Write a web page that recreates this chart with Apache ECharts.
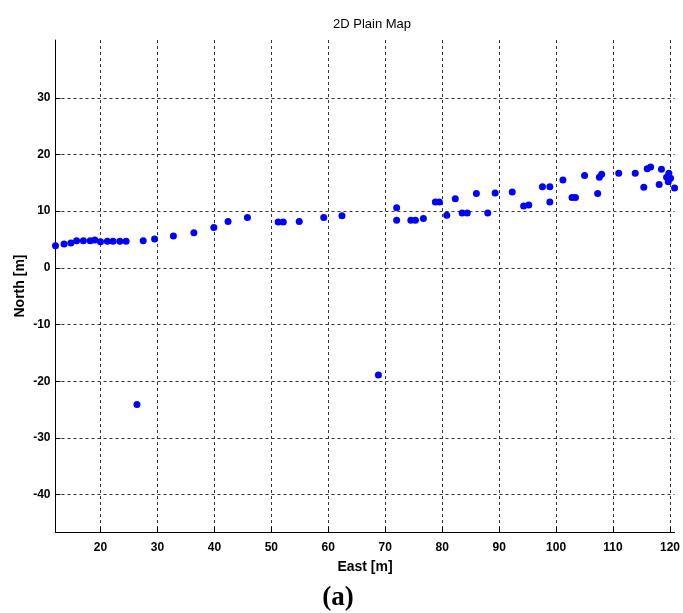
<!DOCTYPE html>
<html>
<head>
<meta charset="utf-8">
<script src="https://cdn.jsdelivr.net/npm/echarts@6/dist/echarts.min.js"></script>
<style>
  html, body { margin: 0; padding: 0; background: #fff; }
  #main { width: 683px; height: 613px; }
</style>
</head>
<body>
<div id="main"></div>
<script>
// 东向 / 北向 坐标 (m)
var eastVals = [
  12.1, 13.6, 14.8, 15.8, 17.0, 18.2, 19.0, 20.0, 21.2, 22.2, 23.4, 24.5,
  27.5, 29.5, 32.8, 36.4, 39.9, 42.4, 45.8, 51.2, 52.1, 54.9, 59.2, 62.4,
  72.0, 72.0, 74.5, 75.3, 76.7, 78.8, 79.5, 80.8, 82.3, 83.5, 84.4, 86.0,
  88.0, 89.3, 92.3, 94.3, 95.2, 97.6, 98.9, 98.9, 101.2, 102.8, 103.4, 105.0,
  107.3, 107.6, 108.0, 111.0, 113.9, 115.4, 116.0, 116.6, 118.1, 118.5, 119.4, 119.8,
  120.1, 119.7, 120.8, 26.4, 68.8
];
var northVals = [
  3.9, 4.2, 4.4, 4.8, 4.8, 4.8, 4.9, 4.6, 4.7, 4.7, 4.7, 4.7,
  4.8, 5.1, 5.6, 6.2, 7.1, 8.2, 8.9, 8.1, 8.1, 8.2, 8.9, 9.2,
  10.6, 8.4, 8.4, 8.4, 8.7, 11.6, 11.6, 9.3, 12.2, 9.7, 9.7, 13.1,
  9.7, 13.2, 13.4, 10.9, 11.1, 14.3, 14.3, 11.6, 15.5, 12.4, 12.4, 16.3,
  13.1, 16.0, 16.5, 16.7, 16.7, 14.2, 17.5, 17.8, 14.7, 17.4, 16.0, 16.7,
  15.8, 15.2, 14.1, -24.1, -18.9
];
var xTicks = [20, 30, 40, 50, 60, 70, 80, 90, 100, 110, 120];
var yTicks = [-40, -30, -20, -10, 0, 10, 20, 30];

var points = eastVals.map(function (e, i) { return [e, northVals[i]]; });

var gridLine = { show: true, lineStyle: { color: '#333', width: 1, type: [3, 3] } };
var tickFont = { fontFamily: 'Liberation Sans', fontWeight: 'bold', fontSize: 12, color: '#000' };
var nameFont = { fontFamily: 'Liberation Sans', fontWeight: 'bold', fontSize: 14, color: '#000' };

var myChart = echarts.init(document.getElementById('main'));
var option = {
  backgroundColor: '#fff',
  animation: false,
  title: [
    {
      text: '2D Plain Map',
      left: 367, top: 13, textAlign: 'center',
      textStyle: { fontFamily: 'Liberation Sans', fontWeight: 'normal', fontSize: 13, color: '#000' }
    },
    {
      text: '(a)',
      left: 333, top: 580, textAlign: 'center',
      textStyle: { fontFamily: 'Liberation Serif', fontWeight: 'bold', fontSize: 27, color: '#000' }
    }
  ],
  grid: { left: 55.5, right: 4, top: 40, bottom: 81, containLabel: false },
  xAxis: {
    type: 'value',
    min: 12.1, max: 120.8,
    name: 'East [m]', nameLocation: 'middle', nameGap: 28,
    nameMoveOverlap: false,
    nameTextStyle: nameFont,
    axisLine: { show: true, onZero: false, lineStyle: { color: '#000', width: 1 } },
    axisTick: { show: true, inside: true, length: 5, customValues: xTicks, lineStyle: { color: '#000' } },
    axisLabel: Object.assign({ customValues: xTicks, margin: 10 }, tickFont),
    splitLine: gridLine
  },
  yAxis: {
    type: 'value',
    min: -46.6, max: 40.2,
    name: 'North [m]', nameLocation: 'middle', nameGap: 28,
    nameMoveOverlap: false,
    nameTextStyle: nameFont,
    axisLine: { show: true, onZero: false, lineStyle: { color: '#000', width: 1 } },
    axisTick: { show: true, inside: true, length: 5, customValues: yTicks, lineStyle: { color: '#000' } },
    axisLabel: Object.assign({ customValues: yTicks, margin: 5 }, tickFont),
    splitLine: gridLine
  },
  series: [
    {
      type: 'scatter',
      data: points,
      symbol: 'circle',
      symbolSize: 7,
      clip: false,
      itemStyle: { color: '#0000ff', opacity: 1 }
    }
  ]
};
myChart.setOption(option);
</script>
</body>
</html>
